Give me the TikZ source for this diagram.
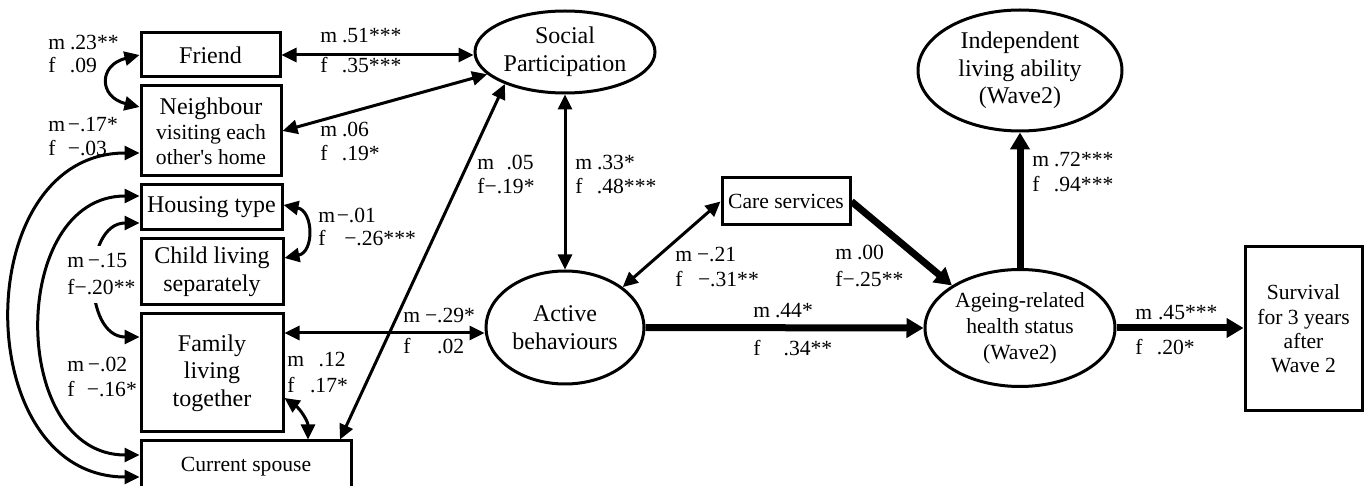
\documentclass[tikz,border=0pt]{standalone}
\usepackage{fontspec}
\setmainfont{Liberation Serif}
\usetikzlibrary{arrows.meta,shapes.geometric}
\newcommand\bigf{\fontsize{12}{13.8}\selectfont}
\newcommand\smf{\fontsize{10.8}{13}\selectfont}
\newcommand\lt[2]{\makebox[#1][l]{#2}}
\begin{document}
\begin{tikzpicture}[x=0.5pt,y=-0.5pt,
  box/.style={draw, line width=1.5pt, rectangle, inner sep=0pt, align=center},
  ell/.style={draw, line width=1.5pt, ellipse, inner sep=0pt, align=center},
  conn/.style={line width=1.5pt, {Triangle[length=7.5pt,width=7pt]}-{Triangle[length=7.5pt,width=7pt]}},
  heavy/.style={line width=3.5pt, -{Triangle[length=8.5pt,width=9.5pt]}},
  lab/.style={anchor=base west, inner sep=0pt, font=\smf},
]
\useasboundingbox (0,0) rectangle (1367,486);
% nodes
\node[box, font=\bigf, minimum width=69.5pt, minimum height=22pt] (friend) at (210.5,55) {Friend};
\node[box, font=\fontsize{10.8}{12.5}\selectfont, minimum width=70pt, minimum height=45pt] (neigh) at (211,131) {{\bigf Neighbour}\\visiting each\\other\textquotesingle s home};
\node[box, font=\bigf, minimum width=70.5pt, minimum height=22.5pt] (house) at (211.5,207.5) {Housing type};
\node[box, font=\bigf, minimum width=71pt, minimum height=33pt] (child) at (212,272) {Child living\\separately};
\node[box, font=\bigf, minimum width=71pt, minimum height=59pt] (family) at (212,373) {Family\\living\\together};
\node[box, font=\smf, minimum width=105pt, minimum height=25.5pt] (spouse) at (246,466.5) {Current spouse};
\node[ell, font=\bigf, minimum width=90pt, minimum height=41pt] (sp) at (565,52) {Social\\Participation};
\node[ell, font=\bigf, minimum width=79pt, minimum height=56.5pt] (active) at (565,327.5) {Active\\behaviours};
\node[box, font=\smf, minimum width=64pt, minimum height=23.5pt] (care) at (786,201.5) {Care services};
\node[ell, font=\smf, minimum width=95pt, minimum height=58.5pt] (age) at (1020,328) {Ageing-related\\health status\\(Wave2)};
\node[ell, font=\bigf, minimum width=102pt, minimum height=60.5pt] (indep) at (1020,70.5) {Independent\\living ability\\(Wave2)};
\node[box, font=\fontsize{10.8}{12.2}\selectfont, minimum width=58.5pt, minimum height=82pt] (surv) at (1303.5,329) {Survival\\for 3 years\\after\\Wave 2};
% connectors
\draw[conn] (friend.east) -- (friend.east -| sp.west);
\draw[conn] (neigh.east) -- (sp.196);
\draw[conn] ([xshift=47pt]spouse.north) -- (sp.208);
\draw[conn] (sp.south) -- (active.north);
\draw[conn] ([yshift=20pt]family.east) -- ([yshift=-2.75pt]active.west);
\draw[conn] ([yshift=-12.5pt]family.east) to[out=-35,in=90] ([xshift=31pt]spouse.north);
\draw[conn] (friend.west) .. controls +(-41,10) and +(-41,-10) .. ([yshift=12pt]neigh.west);
\draw[conn] ([yshift=-11pt]neigh.west) .. controls +(-171,0) and +(-171,0) .. ([yshift=-5.25pt]spouse.west);
\draw[conn] ([yshift=5.75pt]house.west) .. controls +(-131,0) and +(-131,0) .. ([yshift=5.75pt]spouse.west);
\draw[conn] ([yshift=-7.75pt]house.west) .. controls +(-57,0) and +(-57,0) .. ([yshift=18pt]family.west);
\draw[conn] ([yshift=1.25pt]house.east) .. controls +(30,6) and +(30,-6) .. ([yshift=7pt]child.east);
\draw[conn] (active.35) -- (care.west);
\draw[heavy] (care.east) -- (age.148);
\draw[heavy] (active.east) -- (age.west);
\draw[heavy] (age.north) -- (indep.south);
\draw[heavy] (age.east) -- (age.east -| surv.west);
% labels
\node[lab] (l1m) at (320,43) {\lt{1em}{m}.51***};
\node[lab] (l1f) at (320,73) {\lt{1em}{f}.35***};
\node[lab] (l2m) at (320,137) {\lt{1em}{m}.06};
\node[lab] (l2f) at (320,161) {\lt{1em}{f}.19*};
\node[lab] (l3m) at (477,170) {\lt{1.35em}{m}.05};
\node[lab] (l3f) at (477,194) {f−.19*};
\node[lab] (l4m) at (575,170) {\lt{1em}{m}.33*};
\node[lab] (l4f) at (575,194) {\lt{1em}{f}.48***};
\node[lab] (l5m) at (318,223) {\lt{0.85em}{m}−.01};
\node[lab] (l5f) at (318,246) {\lt{1.2em}{f}−.26***};
\node[lab] (l6m) at (403,323) {\lt{1em}{m}−.29*};
\node[lab] (l6f) at (403,354) {\lt{1em}{f}\phantom{−}.02};
\node[lab] (l7m) at (287,367) {\lt{1.45em}{m}.12};
\node[lab] (l7f) at (287,393) {\lt{1.05em}{f}.17*};
\node[lab] (l8m) at (675,262) {\lt{1em}{m}−.21};
\node[lab] (l8f) at (675,287) {\lt{1.05em}{f}−.31**};
\node[lab] (l9m) at (835,260) {\lt{1em}{m}.00};
\node[lab] (l9f) at (835,287) {f−.25**};
\node[lab] (l10m) at (753,318) {\lt{1em}{m}.44*};
\node[lab] (l10f) at (753,356) {\lt{1.4em}{f}.34**};
\node[lab] (l11m) at (1032,167) {\lt{1em}{m}.72***};
\node[lab] (l11f) at (1032,192) {\lt{1em}{f}.94***};
\node[lab] (l12m) at (1135,320) {\lt{1.05em}{m}.45***};
\node[lab] (l12f) at (1135,355) {\lt{1em}{f}.20*};
\node[lab] (l13m) at (48,50) {\lt{1em}{m}.23**};
\node[lab] (l13f) at (48,73) {\lt{1em}{f}.09};
\node[lab] (l14m) at (48,132) {\lt{0.9em}{m}−.17*};
\node[lab] (l14f) at (48,156) {\lt{0.9em}{f}−.03};
\node[lab, fill=white, inner xsep=0pt, inner ysep=4pt] (l15m) at (67,268) {\lt{0.95em}{m}−.15};
\node[lab, fill=white, inner xsep=0pt, inner ysep=4pt] (l15f) at (67,295) {f−.20**};
\node[lab] (l16m) at (67,372) {\lt{0.95em}{m}−.02};
\node[lab] (l16f) at (67,397) {\lt{0.9em}{f}−.16*};
\end{tikzpicture}
\end{document}
